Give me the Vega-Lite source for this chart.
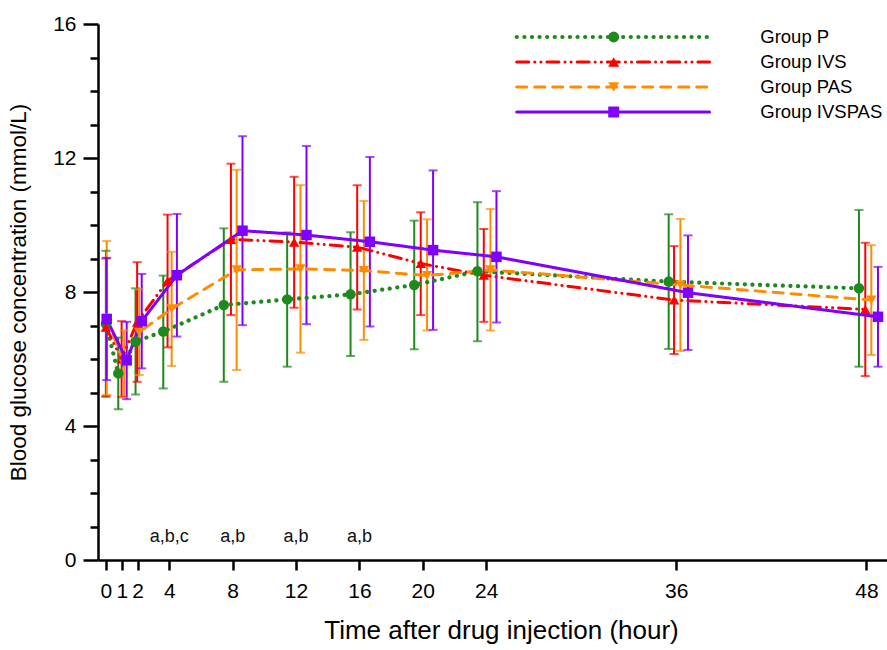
{
  "$schema": "https://vega.github.io/schema/vega-lite/v6.json",
  "width": 789,
  "height": 536,
  "autosize": {"type": "none"},
  "padding": {"left": 98, "top": 24, "right": 0, "bottom": 90},
  "background": "white",
  "config": {"view": {"stroke": null}, "font": "Liberation Sans"},
  "datasets": {
    "glucose": [
      {"group": "Group P", "time": 0.0, "mean": 7.05, "lo": 4.87, "hi": 9.23},
      {"group": "Group P", "time": 0.78, "mean": 5.57, "lo": 4.5, "hi": 6.64},
      {"group": "Group P", "time": 1.87, "mean": 6.52, "lo": 4.94, "hi": 8.11},
      {"group": "Group P", "time": 3.62, "mean": 6.82, "lo": 5.12, "hi": 8.49},
      {"group": "Group P", "time": 7.44, "mean": 7.61, "lo": 5.32, "hi": 9.9},
      {"group": "Group P", "time": 11.44, "mean": 7.78, "lo": 5.77, "hi": 9.78},
      {"group": "Group P", "time": 15.44, "mean": 7.93, "lo": 6.09, "hi": 9.78},
      {"group": "Group P", "time": 19.46, "mean": 8.21, "lo": 6.29, "hi": 10.13},
      {"group": "Group P", "time": 23.45, "mean": 8.62, "lo": 6.53, "hi": 10.68},
      {"group": "Group P", "time": 35.52, "mean": 8.31, "lo": 6.3, "hi": 10.32},
      {"group": "Group P", "time": 47.53, "mean": 8.11, "lo": 5.77, "hi": 10.45},
      {"group": "Group IVS", "time": 0.0, "mean": 6.95, "lo": 4.9, "hi": 9.0},
      {"group": "Group IVS", "time": 0.99, "mean": 6.0, "lo": 4.87, "hi": 7.13},
      {"group": "Group IVS", "time": 1.97, "mean": 7.1, "lo": 5.32, "hi": 8.89},
      {"group": "Group IVS", "time": 3.89, "mean": 8.33, "lo": 6.35, "hi": 10.31},
      {"group": "Group IVS", "time": 7.89, "mean": 9.57, "lo": 7.31, "hi": 11.83},
      {"group": "Group IVS", "time": 11.88, "mean": 9.49, "lo": 7.53, "hi": 11.44},
      {"group": "Group IVS", "time": 15.86, "mean": 9.34, "lo": 7.48, "hi": 11.19},
      {"group": "Group IVS", "time": 19.87, "mean": 8.85, "lo": 7.31, "hi": 10.38},
      {"group": "Group IVS", "time": 23.85, "mean": 8.5, "lo": 7.11, "hi": 9.88},
      {"group": "Group IVS", "time": 35.86, "mean": 7.76, "lo": 6.15, "hi": 9.37},
      {"group": "Group IVS", "time": 47.93, "mean": 7.48, "lo": 5.49, "hi": 9.47},
      {"group": "Group PAS", "time": 0.05, "mean": 7.22, "lo": 4.93, "hi": 9.52},
      {"group": "Group PAS", "time": 1.15, "mean": 5.85, "lo": 4.85, "hi": 6.85},
      {"group": "Group PAS", "time": 2.1, "mean": 6.8, "lo": 5.52, "hi": 8.08},
      {"group": "Group PAS", "time": 4.15, "mean": 7.5, "lo": 5.79, "hi": 9.2},
      {"group": "Group PAS", "time": 8.25, "mean": 8.66, "lo": 5.67, "hi": 11.65},
      {"group": "Group PAS", "time": 12.28, "mean": 8.69, "lo": 6.19, "hi": 11.19},
      {"group": "Group PAS", "time": 16.28, "mean": 8.64, "lo": 6.57, "hi": 10.72},
      {"group": "Group PAS", "time": 20.27, "mean": 8.49, "lo": 6.85, "hi": 10.17},
      {"group": "Group PAS", "time": 24.27, "mean": 8.66, "lo": 6.85, "hi": 10.48},
      {"group": "Group PAS", "time": 36.26, "mean": 8.21, "lo": 6.24, "hi": 10.18},
      {"group": "Group PAS", "time": 48.31, "mean": 7.76, "lo": 6.12, "hi": 9.4},
      {"group": "Group IVSPAS", "time": 0.05, "mean": 7.19, "lo": 5.37, "hi": 9.02},
      {"group": "Group IVSPAS", "time": 1.31, "mean": 5.96, "lo": 4.8, "hi": 7.11},
      {"group": "Group IVSPAS", "time": 2.26, "mean": 7.13, "lo": 5.72, "hi": 8.54},
      {"group": "Group IVSPAS", "time": 4.48, "mean": 8.5, "lo": 6.67, "hi": 10.33},
      {"group": "Group IVSPAS", "time": 8.62, "mean": 9.83, "lo": 7.01, "hi": 12.65},
      {"group": "Group IVSPAS", "time": 12.66, "mean": 9.7, "lo": 7.04, "hi": 12.36},
      {"group": "Group IVSPAS", "time": 16.66, "mean": 9.5, "lo": 6.97, "hi": 12.03},
      {"group": "Group IVSPAS", "time": 20.65, "mean": 9.25, "lo": 6.87, "hi": 11.63},
      {"group": "Group IVSPAS", "time": 24.65, "mean": 9.05, "lo": 7.09, "hi": 11.01},
      {"group": "Group IVSPAS", "time": 36.74, "mean": 7.98, "lo": 6.27, "hi": 9.69},
      {"group": "Group IVSPAS", "time": 48.73, "mean": 7.26, "lo": 5.77, "hi": 8.75}
    ],
    "notes": [
      {"time": 4, "label": "a,b,c"},
      {"time": 8, "label": "a,b"},
      {"time": 12, "label": "a,b"},
      {"time": 16, "label": "a,b"}
    ],
    "groups": [
      {"group": "Group P"},
      {"group": "Group IVS"},
      {"group": "Group PAS"},
      {"group": "Group IVSPAS"}
    ]
  },
  "layer": [
    {
      "data": {"name": "glucose"},
      "encoding": {
        "x": {
          "field": "time",
          "type": "quantitative",
          "scale": {"domain": [-0.5, 49.3], "nice": false, "zero": false},
          "axis": {
            "values": [0, 1, 2, 4, 8, 12, 16, 20, 24, 36, 48],
            "title": "Time after drug injection (hour)",
            "titleFontSize": 26,
            "titleFontWeight": "normal",
            "titleColor": "#000",
            "titlePadding": 16,
            "titleX": 403,
            "labelFontSize": 21,
            "labelColor": "#000",
            "labelPadding": 10,
            "labelOverlap": false,
            "labelFlush": false,
            "tickSize": 10,
            "tickWidth": 2.5,
            "tickColor": "#000",
            "domainWidth": 2.5,
            "domainColor": "#000",
            "grid": false
          }
        },
        "color": {
          "field": "group",
          "type": "nominal",
          "scale": {
            "domain": ["Group P", "Group IVS", "Group PAS", "Group IVSPAS"],
            "range": ["#1E8A1E", "#FF0000", "#FF8C00", "#8000FF"]
          },
          "legend": null
        },
        "strokeDash": {
          "field": "group",
          "type": "nominal",
          "scale": {
            "domain": ["Group P", "Group IVS", "Group PAS", "Group IVSPAS"],
            "range": [[0.1, 7.5], [12, 6, 0.1, 6, 0.1, 6], [10, 8], [1, 0]]
          },
          "legend": null
        }
      },
      "layer": [
        {
          "mark": {"type": "rule", "strokeWidth": 2},
          "encoding": {
            "strokeDash": {"value": [1, 0]},
            "y": {
              "field": "lo",
              "type": "quantitative",
              "scale": {"domain": [0, 16], "nice": false},
              "axis": {
                "orient": "left",
                "values": [0, 4, 8, 12, 16],
                "title": "Blood glucose concentration (mmol/L)",
                "titleFontSize": 22.5,
                "titleFontWeight": "normal",
                "titleColor": "#000",
                "titlePadding": 22,
                "labelFontSize": 21,
                "labelColor": "#000",
                "labelPadding": 7,
                "tickSize": 15,
                "tickWidth": 2.5,
                "tickColor": "#000",
                "domainWidth": 2.5,
                "domainColor": "#000",
                "grid": false
              }
            },
            "y2": {"field": "hi"}
          }
        },
        {
          "mark": {"type": "tick", "orient": "horizontal", "size": 9, "thickness": 2},
          "encoding": {
            "strokeDash": {"value": [1, 0]},
            "y": {
              "field": "lo",
              "type": "quantitative",
              "axis": {
                "orient": "left",
                "values": [1, 2, 3, 5, 6, 7, 9, 10, 11, 13, 14, 15],
                "labels": false,
                "title": null,
                "domain": false,
                "tickSize": 8,
                "tickWidth": 2.5,
                "tickColor": "#000",
                "grid": false
              }
            }
          }
        },
        {
          "mark": {"type": "tick", "orient": "horizontal", "size": 9, "thickness": 2},
          "encoding": {
            "strokeDash": {"value": [1, 0]},
            "y": {"field": "hi", "type": "quantitative", "axis": null}
          }
        },
        {
          "transform": [{"filter": "datum.group === 'Group P'"}],
          "mark": {"type": "line", "strokeWidth": 4.2, "strokeCap": "round"},
          "encoding": {"y": {"field": "mean", "type": "quantitative", "axis": null}}
        },
        {
          "transform": [{"filter": "datum.group !== 'Group P'"}],
          "mark": {"type": "line", "strokeWidth": 3, "strokeCap": "round"},
          "encoding": {"y": {"field": "mean", "type": "quantitative", "axis": null}}
        },
        {
          "mark": {"type": "point", "filled": true, "size": 110, "opacity": 1},
          "encoding": {
            "strokeDash": {"value": [1, 0]},
            "y": {"field": "mean", "type": "quantitative", "axis": null},
            "shape": {
              "field": "group",
              "type": "nominal",
              "scale": {
                "domain": ["Group P", "Group IVS", "Group PAS", "Group IVSPAS"],
                "range": ["circle", "triangle-up", "triangle-down", "square"]
              },
              "legend": null
            }
          }
        },
        {
          "data": {"name": "notes"},
          "mark": {"type": "text", "fontSize": 18, "baseline": "middle", "align": "center"},
          "encoding": {
            "x": {"field": "time", "type": "quantitative"},
            "y": {"datum": 0.7, "type": "quantitative", "axis": null},
            "text": {"field": "label"},
            "color": {"value": "#111"},
            "strokeDash": {"value": [1, 0]}
          }
        }
      ],
      "resolve": {"axis": {"y": "independent"}}
    },
    {
      "data": {"name": "groups"},
      "encoding": {
        "y": {
          "field": "group",
          "type": "nominal",
          "scale": {
            "type": "point",
            "domain": ["Group P", "Group IVS", "Group PAS", "Group IVSPAS"],
            "range": [13, 88],
            "padding": 0
          },
          "axis": null
        },
        "color": {"field": "group", "type": "nominal", "legend": null}
      },
      "layer": [
        {
          "transform": [{"filter": "datum.group === 'Group P'"}],
          "mark": {"type": "rule", "strokeWidth": 4.2, "strokeCap": "round"},
          "encoding": {
            "x": {"datum": 25.93, "type": "quantitative"},
            "x2": {"datum": 38.1},
            "strokeDash": {"field": "group", "type": "nominal", "legend": null}
          }
        },
        {
          "transform": [{"filter": "datum.group !== 'Group P'"}],
          "mark": {"type": "rule", "strokeWidth": 3, "strokeCap": "round"},
          "encoding": {
            "x": {"datum": 25.93, "type": "quantitative"},
            "x2": {"datum": 38.1},
            "strokeDash": {"field": "group", "type": "nominal", "legend": null}
          }
        },
        {
          "mark": {"type": "point", "filled": true, "size": 120, "opacity": 1},
          "encoding": {
            "x": {"datum": 32.05, "type": "quantitative"},
            "shape": {"field": "group", "type": "nominal", "legend": null}
          }
        },
        {
          "mark": {"type": "text", "align": "left", "baseline": "middle", "fontSize": 18.5},
          "encoding": {
            "x": {"datum": 41.3, "type": "quantitative"},
            "text": {"field": "group"},
            "color": {"value": "#000"}
          }
        }
      ]
    }
  ],
  "resolve": {"scale": {"y": "independent"}}
}
